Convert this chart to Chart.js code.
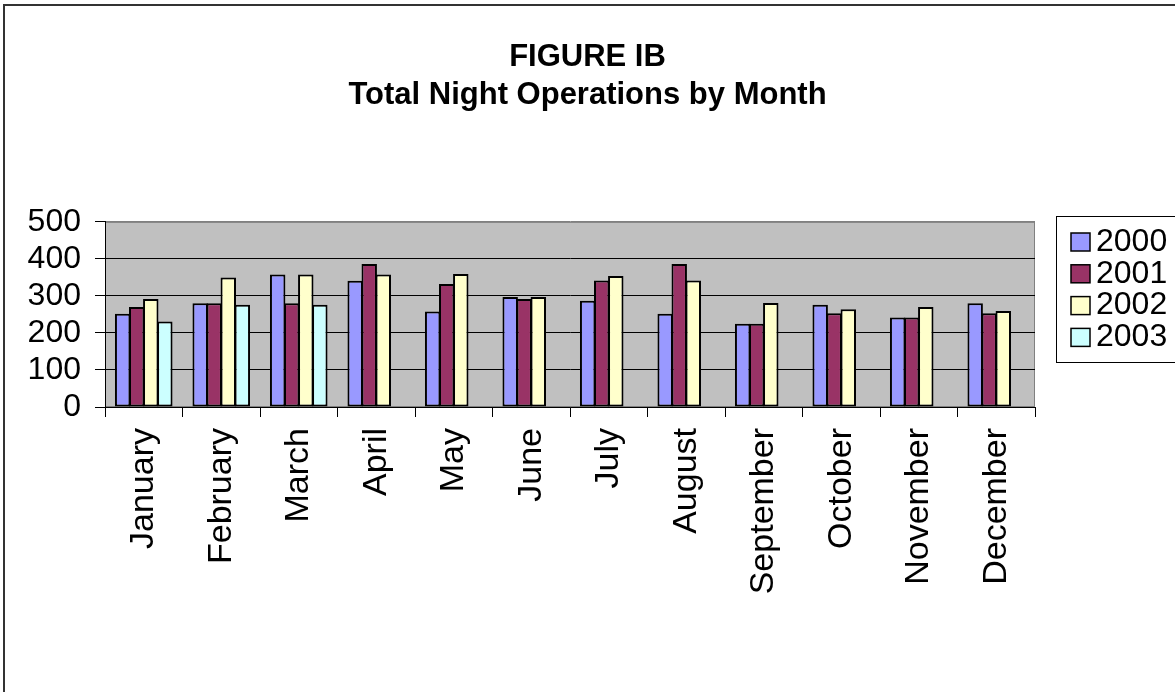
<!DOCTYPE html>
<html>
<head>
<meta charset="utf-8">
<script src="https://cdn.jsdelivr.net/npm/chart.js@4/dist/chart.umd.min.js"></script>
<style>
  html, body { margin: 0; padding: 0; background: #fff; overflow: hidden; }
  #wrap { position: relative; width: 1175px; height: 692px; }
  /* outer frame: only top and left edges fall inside the page */
  #frame { position: absolute; left: 3px; top: 4px; width: 1300px; height: 800px;
           border: 2px solid #333; pointer-events: none; }
</style>
</head>
<body>
<div id="wrap">
  <canvas id="chart" width="1175" height="692"></canvas>
  <div id="frame"></div>
</div>
<script>
// data
const months = ["January", "February", "March", "April", "May", "June",
                "July", "August", "September", "October", "November", "December"];
const years = ["2000", "2001", "2002", "2003"];
const ops2000 = [252, 280, 358, 341, 258, 297, 287, 252, 225, 276, 242, 280];
const ops2001 = [270, 280, 280, 386, 332, 292, 342, 386, 225, 253, 242, 253];
const ops2002 = [292, 350, 358, 358, 359, 297, 354, 342, 281, 264, 270, 259];
const ops2003 = [231, 276, 276, null, null, null, null, null, null, null, null, null];
const yMin = 0, yMax = 500, yStep = 100;
const titleLines = ["FIGURE IB", "Total Night Operations by Month"];

const colors = ["#9999ff", "#993366", "#ffffcc", "#ccffff"];
const FONT = '"Liberation Sans", Arial, sans-serif';
Chart.defaults.font.family = FONT;

// grey plot area with a thin grey outline (Excel style)
const plotBg = {
  id: "plotBg",
  beforeDraw(chart) {
    const { ctx, chartArea: a } = chart;
    ctx.save();
    ctx.fillStyle = "#c0c0c0";
    ctx.fillRect(a.left, a.top, a.right - a.left, a.bottom - a.top);
    ctx.strokeStyle = "#808080";
    ctx.lineWidth = 1;
    ctx.strokeRect(a.left + 0.5, a.top + 0.5, a.right - a.left - 1, a.bottom - a.top - 1);
    ctx.restore();
  },
};

// boxed legend to the right of the plot
const boxLegend = {
  id: "boxLegend",
  afterDraw(chart) {
    const { ctx, chartArea: a } = chart;
    const x0 = a.right + 21, y0 = 216;
    ctx.save();
    ctx.strokeStyle = "#000";
    ctx.lineWidth = 1;
    ctx.strokeRect(x0 + 0.5, y0 + 0.5, 300, 146);
    ctx.font = "32px " + FONT;
    ctx.textBaseline = "middle";
    chart.data.datasets.forEach((ds, i) => {
      const cy = 241 + i * 31.8;
      ctx.fillStyle = ds.backgroundColor;
      ctx.fillRect(x0 + 15, cy - 8, 19, 18);
      ctx.lineWidth = 1.5;
      ctx.strokeRect(x0 + 15, cy - 8, 19, 18);
      ctx.fillStyle = "#000";
      ctx.fillText(ds.label, x0 + 40, cy + 1);
    });
    ctx.restore();
  },
};

const series = [ops2000, ops2001, ops2002, ops2003];

new Chart(document.getElementById("chart"), {
  type: "bar",
  data: {
    labels: months,
    datasets: years.map((y, i) => ({
      label: y,
      data: series[i],
      backgroundColor: colors[i],
      borderColor: "#000",
      borderWidth: 2,
      borderSkipped: false,
      categoryPercentage: 0.725,
      barPercentage: 1.1,
    })),
  },
  options: {
    responsive: false,
    animation: false,
    devicePixelRatio: 1,
    layout: { padding: 0 },
    plugins: {
      legend: { display: false },
      tooltip: { enabled: false },
      title: {
        display: true,
        text: titleLines,
        color: "#000",
        font: { size: 31, weight: "bold", lineHeight: 1.24 },
        padding: { top: 38, bottom: 107 },
      },
    },
    scales: {
      x: {
        ticks: { color: "#000", font: { size: 34 }, minRotation: 90, maxRotation: 90,
                 padding: 11, autoSkip: false },
        grid: { display: true, drawOnChartArea: false, offset: true, tickLength: 10,
                color: "#000", lineWidth: 1 },
        border: { color: "#000", width: 1 },
        afterFit: (s) => { s.height = 285; },
      },
      y: {
        min: yMin, max: yMax,
        ticks: { stepSize: yStep, color: "#000", font: { size: 32 }, padding: 14, autoSkip: false },
        grid: {
          color: (c) => (c.tick && c.tick.value === yMax ? "#808080" : "#000"),
          tickColor: "#000", tickLength: 10, lineWidth: 1,
        },
        border: { color: "#000", width: 1 },
        afterFit: (s) => { s.width = 105; },
      },
      // empty right-hand axis that only reserves room for the legend box
      side: {
        position: "right",
        min: yMin, max: yMax,
        ticks: { display: false },
        grid: { display: false },
        border: { display: false },
        afterFit: (s) => { s.width = 140; },
      },
    },
  },
  plugins: [plotBg, boxLegend],
});
</script>
</body>
</html>
